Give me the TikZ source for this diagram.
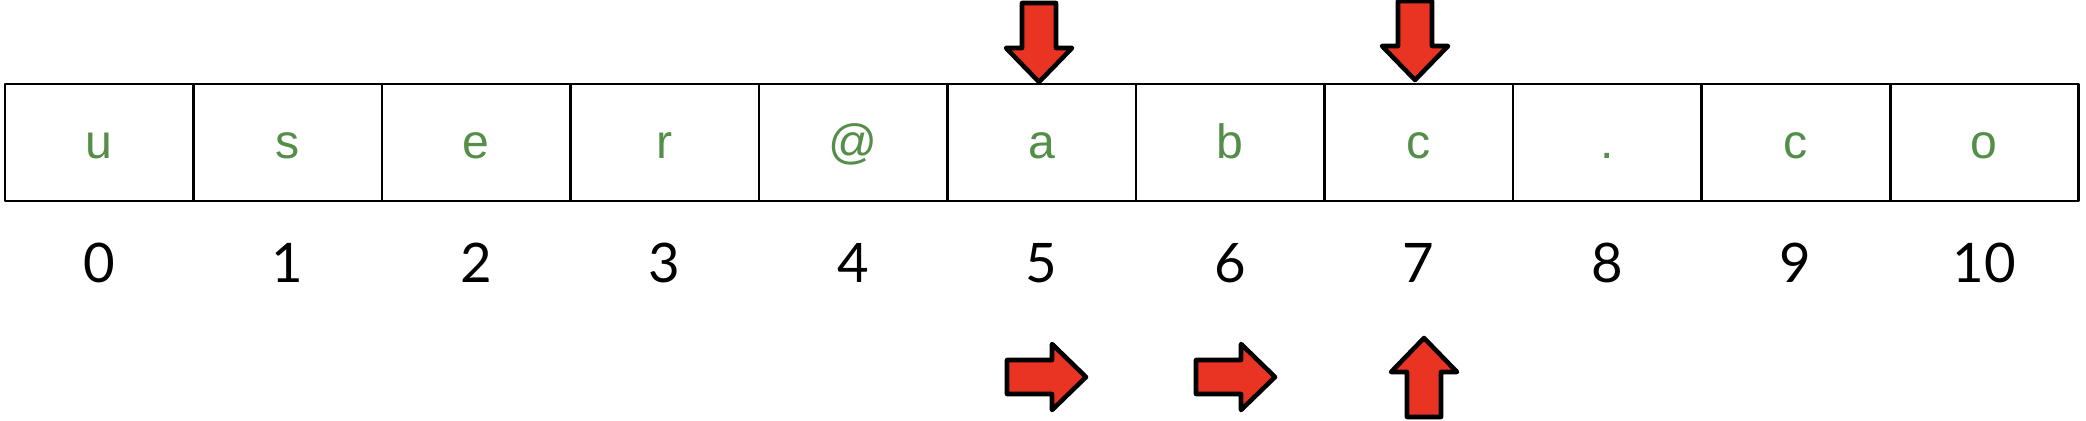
\documentclass[tikz,border=0pt]{standalone}
\usepackage{fontspec}
\setmainfont{Lato}[Numbers=Lining]
\newfontfamily\letterfont{Liberation Sans}
\definecolor{chargreen}{RGB}{84,142,72}
\definecolor{arrowred}{RGB}{233,52,36}

\begin{document}
\begin{tikzpicture}[x=0.01cm, y=-0.01cm, line join=round,
                    cell/.style={draw, line width=0.8pt, minimum width=1.885cm, minimum height=1.17cm,
                                 inner sep=0pt, outer sep=0pt, text height=0.31cm, text depth=0pt,
                                 text=chargreen, font=\letterfont\fontsize{13.7}{14}\selectfont},
                    index/.style={anchor=base, inner sep=0pt, font=\fontsize{15.5}{18}\selectfont},
                    redarrow/.pic={\draw[line width=1.3pt, fill=arrowred]
                        (0,0) -- (33,-34) -- (17,-34) -- (17,-79) -- (-17,-79) -- (-17,-34) -- (-33,-34) -- cycle;}]
\useasboundingbox (0,0) rectangle (2086,420);

% string cells and indices
\foreach \ch [count=\i from 0] in {u,s,e,r,@,a,b,c,.,c,o} {
  \node[cell] (c\i) at (99.25+188.5*\i,142.5) {\ch};
  \node[index] (n\i) at (99.25+188.5*\i,282) {\i};
}

% pointers
\pic at (1039,82) {redarrow};
\pic at (1415,80) {redarrow};
\pic[rotate=90] at (1086,377) {redarrow};
\pic[rotate=90] at (1275,377) {redarrow};
\pic[rotate=180] at (1424,338) {redarrow};

\end{tikzpicture}
\end{document}
